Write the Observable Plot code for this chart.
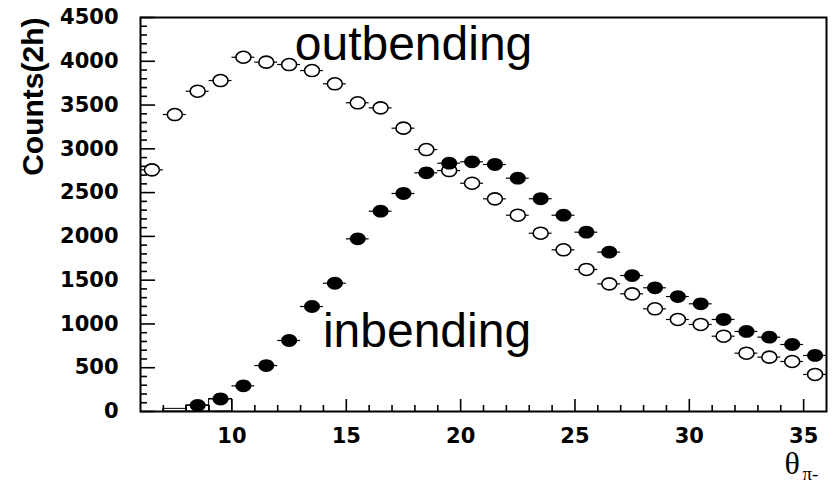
<!DOCTYPE html>
<html><head><meta charset="utf-8">
<script src="https://cdn.jsdelivr.net/npm/d3@7"></script>
<script src="https://cdn.jsdelivr.net/npm/@observablehq/plot@0.6"></script>
<style>body{margin:0;background:#fff}#chart svg{display:block}</style>
</head><body><div id="chart"></div>
<script>
// theta bin centres (deg)
const outBins = [6.5,7.5,8.5,9.5,10.5,11.5,12.5,13.5,14.5,15.5,16.5,17.5,18.5,19.5,20.5,21.5,22.5,23.5,24.5,25.5,26.5,27.5,28.5,29.5,30.5,31.5,32.5,33.5,34.5,35.5];
const outbending = [2760,3392,3658,3780,4046,3990,3963,3894,3743,3526,3468,3236,2992,2752,2607,2429,2242,2036,1847,1622,1458,1344,1173,1051,994,860,666,621,571,423];
const inBins = [8.5,9.5,10.5,11.5,12.5,13.5,14.5,15.5,16.5,17.5,18.5,19.5,20.5,21.5,22.5,23.5,24.5,25.5,26.5,27.5,28.5,29.5,30.5,31.5,32.5,33.5,34.5,35.5];
const inbending = [70,143,293,525,811,1199,1465,1972,2288,2490,2726,2836,2852,2821,2665,2430,2242,2048,1820,1553,1413,1313,1230,1051,914,849,765,640];
// low-count histogram outline bins
const lowBins = [7.5,8.5,9.5];
const lowCounts = [30,70,143];
// ticks
const xTicks = [10,15,20,25,30,35];
const xMinor = [7,8,9,11,12,13,14,16,17,18,19,21,22,23,24,26,27,28,29,31,32,33,34];
const yTicks = [0,500,1000,1500,2000,2500,3000,3500,4000,4500];
const yMinor = d3.range(100,4500,100).filter(v => v % 500 !== 0);
const yLabel = "Counts(2h)";
const xLabel = "θ";
const xLabelSub = "π-";
const labels = ["outbending","inbending"];

const outData = outBins.map((x,i) => ({x, y: outbending[i]}));
const inData = inBins.map((x,i) => ({x, y: inbending[i]}));
const lowData = lowBins.map((x,i) => ({x, y: lowCounts[i]}));

const ellipse = {
  draw(ctx, size) {
    const r = Math.sqrt(size/Math.PI), rx = r*1.25, ry = r, kx = rx*0.5523, ky = ry*0.5523;
    ctx.moveTo(rx,0);
    ctx.bezierCurveTo(rx,ky,kx,ry,0,ry);
    ctx.bezierCurveTo(-kx,ry,-rx,ky,-rx,0);
    ctx.bezierCurveTo(-rx,-ky,-kx,-ry,0,-ry);
    ctx.bezierCurveTo(kx,-ry,rx,-ky,rx,0);
    ctx.closePath();
  }
};

const tickFont = {fontSize: 21, fontWeight: "bold", fontFamily: "DejaVu Sans"};
const tickLine = {stroke: "black", strokeWidth: 1.6, tickFormat: () => "", label: null};

const chart = Plot.plot({
  width: 839, height: 482,
  marginLeft: 140, marginRight: 13, marginTop: 17, marginBottom: 71,
  style: {background: "white", color: "black", fontFamily: "Liberation Sans"},
  x: {domain: [6,36], label: null},
  y: {domain: [0,4500], label: null},
  marks: [
    Plot.rectY(lowData, {x1: d => d.x-0.5, x2: d => d.x+0.5, y1: 0, y2: "y", fill: "none", stroke: "black", strokeWidth: 1}),
    Plot.ruleY(outData, {x1: d => d.x-0.5, x2: d => d.x+0.5, y: "y", stroke: "black", strokeWidth: 1.2}),
    Plot.dot(outData, {x: "x", y: "y", r: 6, symbol: ellipse, fill: "white", stroke: "black", strokeWidth: 1.6}),
    Plot.ruleY(inData, {x1: d => d.x-0.5, x2: d => d.x+0.5, y: "y", stroke: "black", strokeWidth: 1.2}),
    Plot.dot(inData, {x: "x", y: "y", r: 6.4, symbol: ellipse, fill: "black", stroke: "none"}),
    // inward ticks: axis ticks shifted back inside the frame
    Plot.axisX(xMinor, {anchor: "bottom", tickSize: 6, dy: -6, ...tickLine}),
    Plot.axisX(xTicks, {anchor: "bottom", tickSize: 12, dy: -12, ...tickLine}),
    Plot.axisY(yMinor, {anchor: "left", tickSize: 7, dx: 7, ...tickLine}),
    Plot.axisY(yTicks, {anchor: "left", tickSize: 15, dx: 15, ...tickLine}),
    // tick labels
    Plot.axisX(xTicks, {anchor: "bottom", tickSize: 0, tickPadding: 17, label: null, tickFormat: d => String(d), ...tickFont}),
    Plot.axisY(yTicks, {anchor: "left", tickSize: 0, tickPadding: 22, label: null, tickFormat: d => String(d), ...tickFont}),
    Plot.frame({stroke: "black", strokeWidth: 2}),
    Plot.text([yLabel], {text: d => d, frameAnchor: "top-left", rotate: -90, textAnchor: "end", lineAnchor: "middle", dx: -107, dy: 0, fontSize: 30, fontWeight: "bold", fontFamily: "Liberation Sans"}),
    Plot.text([xLabel], {text: d => d, frameAnchor: "bottom-right", textAnchor: "start", lineAnchor: "bottom", dx: -42, dy: 62, fontSize: 32, fontFamily: "Liberation Serif"}),
    Plot.text([xLabelSub], {text: d => d, frameAnchor: "bottom-right", textAnchor: "start", lineAnchor: "bottom", dx: -24, dy: 68, fontSize: 19, fontFamily: "Liberation Serif"}),
    Plot.text([labels[0]], {text: d => d, x: 17.94, y: 4017, textAnchor: "middle", lineAnchor: "bottom", fontSize: 48, fontFamily: "Liberation Sans"}),
    Plot.text([labels[1]], {text: d => d, x: 18.53, y: 742, textAnchor: "middle", lineAnchor: "bottom", fontSize: 48, fontFamily: "Liberation Sans"})
  ]
});
document.getElementById("chart").append(chart);
</script></body></html>
